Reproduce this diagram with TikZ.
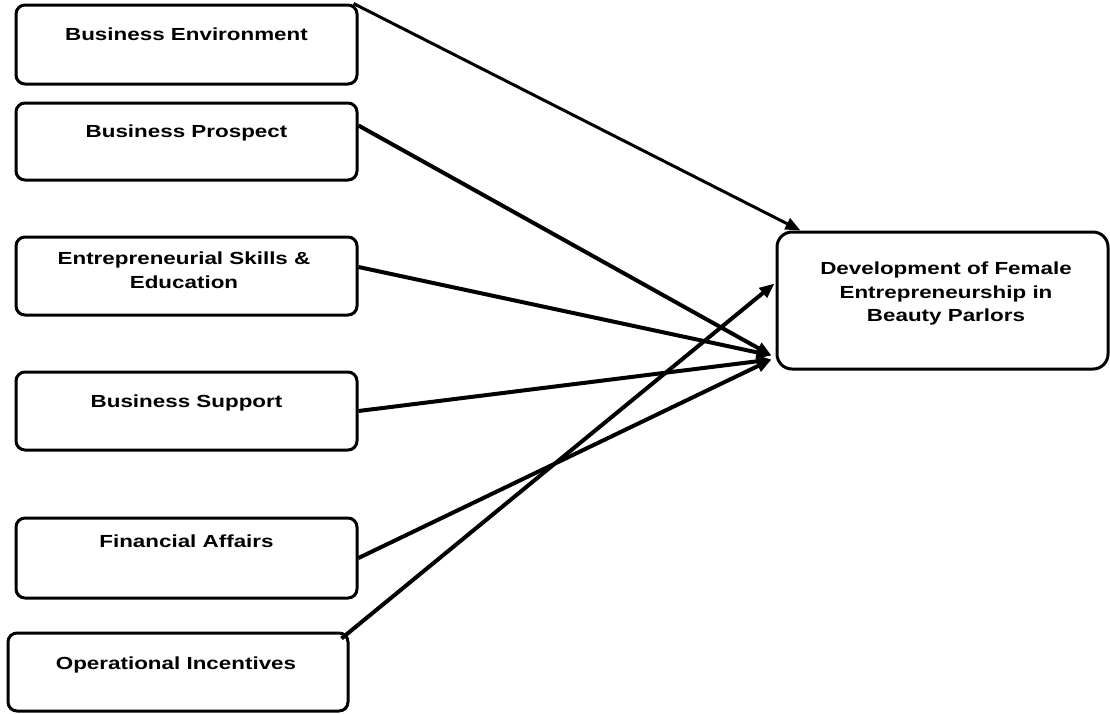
\documentclass[tikz,border=0pt]{standalone}
\usepackage{fontspec}
\setmainfont{Liberation Sans}[FakeStretch=1.28]
\usetikzlibrary{arrows.meta,calc}
\begin{document}
\begin{tikzpicture}[x=1pt,y=-1pt,
  box/.style={draw,line width=3pt,rounded corners=9pt,minimum width=341pt,minimum height=78pt,inner sep=0pt},
  lbl/.style={anchor=north,inner sep=0pt,align=center,font=\bfseries\fontsize{17.5}{24}\selectfont},
  conn/.style={line width=4pt,-{Triangle[length=15pt,width=12pt]}}]
\useasboundingbox (0,0) rectangle (1110,713);
\node[box,minimum height=79pt] (b1) at (186.5,44.5) {};
\node[box,minimum height=77pt] (b2) at (186.5,141.5) {};
\node[box] (b3) at (186.5,276) {};
\node[box] (b4) at (186.5,411) {};
\node[box,minimum height=80pt] (b5) at (186.5,558) {};
\node[box,minimum width=340pt] (b6) at (178,672) {};
\node[box,rounded corners=15pt,minimum width=331pt,minimum height=137pt] (r) at (942.5,300.5) {};

\node[lbl] (t1) at (186.5,28) {Business Environment};
\node[lbl] (t2) at (186.5,125) {Business Prospect};
\node[lbl] (t3) at (184,252) {Entrepreneurial Skills \&\\Education};
\node[lbl] (t4) at (186.5,395) {Business Support};
\node[lbl] (t5) at (186.5,535) {Financial Affairs};
\node[lbl] (t6) at (176,657) {Operational Incentives};
\node[lbl,font=\bfseries\fontsize{17.5}{23.5}\selectfont] (tr) at (946,262) {Development of Female\\Entrepreneurship in\\Beauty Parlors};

\coordinate (hub1) at ($(r.south west)+(-4,-15)$);
\coordinate (hub2) at ($(r.south west)+(-4,-11)$);

\draw[conn,line width=3pt] ($(b1.north east)+(-5,0)$) -- ($(r.north west)+(25,0)$);
\draw[conn] ($(b2.east)+(0,-16)$) -- (hub1);
\draw[conn] ($(b3.east)+(0,-9)$) -- (hub1);
\draw[conn] (b4.east) -- (hub2);
\draw[conn] (b5.east) -- (hub2);
\draw[conn] ($(b6.north east)+(-8,7)$) -- ($(r.west)+(-1,-17)$);
\end{tikzpicture}
\end{document}
